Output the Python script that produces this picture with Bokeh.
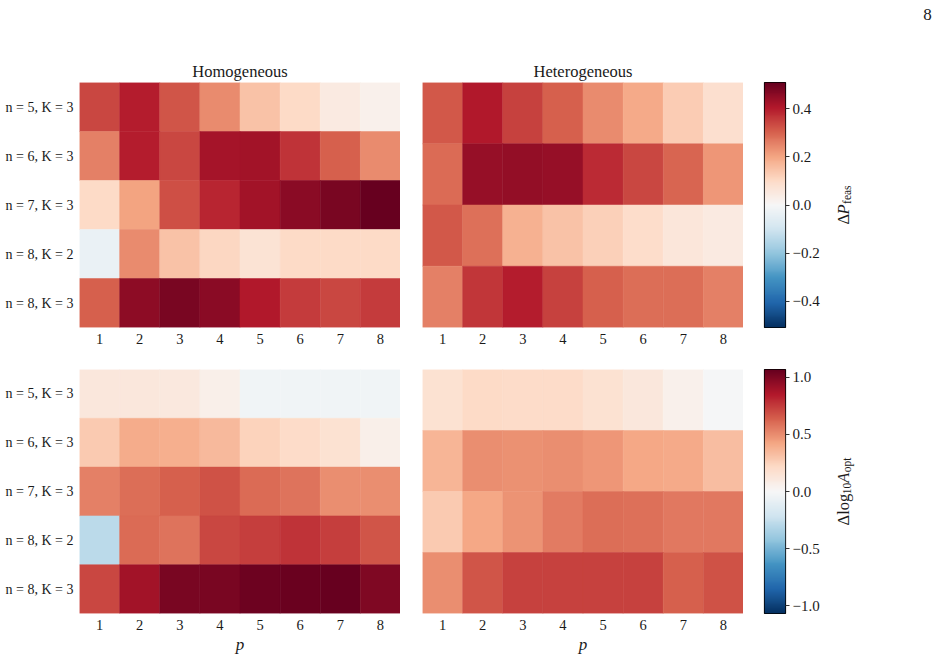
import numpy as np
from bokeh.plotting import figure
from bokeh.models import (LinearColorMapper, FixedTicker, ColumnDataSource,
                          FactorRange, Range1d)
from bokeh.core.properties import value
from bokeh.layouts import row, column
from bokeh.embed import file_html
from bokeh.resources import INLINE

# ---------------- data ----------------
p_values = [1, 2, 3, 4, 5, 6, 7, 8]
hom_rows = ["n = 5, K = 3", "n = 6, K = 3", "n = 7, K = 3", "n = 8, K = 2", "n = 8, K = 3"]
het_rows = ["het 1", "het 2", "het 3", "het 4"]

hom_dP = [
    [0.34, 0.40, 0.32, 0.24, 0.15, 0.10, 0.045, 0.025],
    [0.255, 0.40, 0.34, 0.425, 0.43, 0.37, 0.305, 0.24],
    [0.10, 0.205, 0.33, 0.39, 0.43, 0.46, 0.485, 0.51],
    [-0.035, 0.24, 0.15, 0.11, 0.075, 0.10, 0.10, 0.10],
    [0.305, 0.455, 0.485, 0.46, 0.41, 0.355, 0.34, 0.355],
]
het_dP = [
    [0.315, 0.41, 0.35, 0.305, 0.24, 0.195, 0.13, 0.085],
    [0.29, 0.445, 0.45, 0.445, 0.38, 0.34, 0.295, 0.225],
    [0.315, 0.28, 0.18, 0.15, 0.12, 0.095, 0.06, 0.045],
    [0.255, 0.365, 0.40, 0.35, 0.305, 0.285, 0.285, 0.255],
]
hom_dA = [
    [0.12, 0.12, 0.11, 0.065, -0.04, -0.04, -0.04, -0.04],
    [0.28, 0.40, 0.385, 0.35, 0.245, 0.205, 0.16, 0.065],
    [0.535, 0.60, 0.64, 0.685, 0.61, 0.58, 0.50, 0.50],
    [-0.29, 0.61, 0.58, 0.715, 0.74, 0.77, 0.74, 0.675],
    [0.715, 0.90, 1.015, 1.015, 1.05, 1.06, 1.07, 0.995],
]
het_dA = [
    [0.16, 0.215, 0.205, 0.205, 0.16, 0.12, 0.055, -0.01],
    [0.365, 0.50, 0.49, 0.50, 0.47, 0.415, 0.405, 0.33],
    [0.28, 0.415, 0.48, 0.555, 0.60, 0.59, 0.565, 0.565],
    [0.50, 0.675, 0.73, 0.73, 0.73, 0.73, 0.64, 0.685],
]
cb_top_ticks = [-0.4, -0.2, 0.0, 0.2, 0.4]
cb_bot_ticks = [-1.0, -0.5, 0.0, 0.5, 1.0]
titles = ["Homogeneous", "Heterogeneous"]
page_number = "8"

# ---------------- style ----------------
FONT = "Liberation Serif"
TXT = "#1a1a1a"
RDBU = ["#053061", "#2166ac", "#4393c3", "#92c5de", "#d1e5f0", "#f7f7f7",
        "#fddbc7", "#f4a582", "#d6604d", "#b2182b", "#67001f"]


def interp_palette(colors, n):
    rgb = np.array([[int(c[i:i + 2], 16) for i in (1, 3, 5)] for c in colors], float)
    xs = np.linspace(0, 1, len(colors))
    t = np.linspace(0, 1, n)
    out = []
    for ti in t:
        r = [np.interp(ti, xs, rgb[:, k]) for k in range(3)]
        out.append("#%02x%02x%02x" % tuple(int(round(v)) for v in r))
    return out


PAL = interp_palette(RDBU, 256)

vmax_top = float(np.max(np.abs(np.array(hom_dP + het_dP))))
vmax_bot = float(np.max(np.abs(np.array(hom_dA + het_dA))))
map_top = LinearColorMapper(palette=PAL, low=-vmax_top, high=vmax_top)
map_bot = LinearColorMapper(palette=PAL, low=-vmax_bot, high=vmax_bot)

FRAME_W = 321
TOP_H, BOT_H = 245, 244
TOP_B_TOP, TOP_B_BOT = 82, 28
BOT_B_TOP, BOT_B_BOT = 14, 45
LEFT_B = 79
GAP = 22
CB_GAP, CB_W, CB_RB = 21, 21, 40
WIN_W = 940


def heatmap(rows, values, mapper, title, show_y, show_xlabel, fh, bt, bb, bl):
    xf = [str(v) for v in p_values]
    fig = figure(x_range=FactorRange(factors=xf), y_range=FactorRange(factors=list(reversed(rows))),
                 frame_width=FRAME_W, frame_height=fh,
                 min_border_left=bl, min_border_right=0, min_border_top=bt, min_border_bottom=bb,
                 toolbar_location=None, output_backend="svg",
                 y_axis_location="left" if show_y else None,
                 outline_line_color=None, background_fill_color="white", border_fill_color="white")
    xs, ys, vs = [], [], []
    for r, rl in enumerate(rows):
        for c, pv in enumerate(p_values):
            xs.append(str(pv)); ys.append(rl); vs.append(values[r][c])
    src = ColumnDataSource(dict(x=xs, y=ys, v=vs))
    fig.rect(x="x", y="y", width=1, height=1, source=src,
             fill_color={"field": "v", "transform": mapper},
             line_color={"field": "v", "transform": mapper}, line_width=0.5)
    fig.grid.visible = False
    for ax in fig.axis:
        ax.axis_line_color = None
        ax.major_tick_line_color = None
        ax.major_tick_in = 0
        ax.major_tick_out = 0
        ax.minor_tick_line_color = None
        ax.minor_tick_in = 0
        ax.minor_tick_out = 0
        ax.major_label_text_font = FONT
        ax.major_label_text_font_size = "14.5px"
        ax.major_label_text_color = TXT
    fig.xaxis.major_label_standoff = 6
    if show_y:
        fig.yaxis.major_label_text_font_size = "14px"
        fig.yaxis.major_label_standoff = 6
    if show_xlabel:
        fig.xaxis.axis_label = "p"
        fig.xaxis.axis_label_text_font = FONT
        fig.xaxis.axis_label_text_font_style = "italic"
        fig.xaxis.axis_label_text_font_size = "17px"
        fig.xaxis.axis_label_text_color = TXT
        fig.xaxis.axis_label_standoff = 2
    if title:
        fig.title.text = title
        fig.title.align = "center"
        fig.title.text_font = FONT
        fig.title.text_font_size = "16.5px"
        fig.title.text_font_style = "normal"
        fig.title.text_color = TXT
        fig.title.standoff = 3
    return fig


def colorbar(mapper, vmax, ticks, fh, bt, bb):
    fig = figure(x_range=Range1d(0, 1), y_range=Range1d(-vmax, vmax),
                 frame_width=CB_W, frame_height=fh,
                 min_border_left=CB_GAP, min_border_right=CB_RB, min_border_top=bt, min_border_bottom=bb,
                 x_axis_location=None, y_axis_location="right",
                 toolbar_location=None, output_backend="svg",
                 outline_line_color="black", outline_line_width=1.2,
                 background_fill_color="white", border_fill_color="white")
    grad = np.linspace(-vmax, vmax, 512).reshape(512, 1)
    fig.image(image=[grad], x=0, y=-vmax, dw=1, dh=2 * vmax, color_mapper=mapper)
    fig.grid.visible = False
    ax = fig.yaxis[0]
    ax.ticker = FixedTicker(ticks=ticks)
    ax.major_label_overrides = {t: ("%.1f" % t).replace("-", "\u2212") for t in ticks}
    ax.axis_line_color = None
    ax.major_tick_in = 0
    ax.major_tick_out = 4
    ax.major_tick_line_color = "#333333"
    ax.minor_tick_line_color = None
    ax.minor_tick_in = 0
    ax.minor_tick_out = 0
    ax.major_label_standoff = 3
    ax.major_label_text_font = FONT
    ax.major_label_text_font_size = "15px"
    ax.major_label_text_color = TXT
    return fig


def label_panel(fh, bt, bb, parts, page=None):
    """Full-height panel right of a colour bar (row pixel coordinates) holding its rotated title."""
    x0 = LEFT_B + FRAME_W + GAP + FRAME_W + CB_GAP + CB_W + CB_RB
    w = WIN_W - x0
    h = bt + fh + bb
    fig = figure(x_range=Range1d(0, w), y_range=Range1d(h, 0),
                 frame_width=w, frame_height=h, frame_align=False,
                 min_border_left=0, min_border_right=0, min_border_top=0, min_border_bottom=0,
                 x_axis_location=None, y_axis_location=None,
                 toolbar_location=None, output_backend="svg",
                 outline_line_color=None, background_fill_color="white", border_fill_color="white")
    fig.grid.visible = False
    total = sum(p[4] for p in parts)
    y = bt + fh / 2.0 + total / 2.0
    base_x = 18
    for text, size, style, shift, wd in parts:
        fig.text(x=[base_x + shift], y=[y], text=[text], angle=90, angle_units="deg",
                 text_align="left", text_baseline="alphabetic", text_font=value(FONT),
                 text_font_size=value("%.1fpx" % size), text_font_style=style, text_color=TXT)
        y -= wd
    if page is not None:
        fig.text(x=[927 - x0], y=[14], text=[page], text_align="center", text_baseline="middle",
                 text_font=value(FONT), text_font_size=value("17px"), text_color=TXT)
    return fig


M, S = 16.5, 11.5
top_parts = [("\u0394", M, "normal", 0, 0.612 * M),
             ("P", M, "italic", 0, 0.64 * M),
             ("feas", S, "normal", 3.5, 1.61 * S)]
bot_parts = [("\u0394log", M, "normal", 0, 1.89 * M),
             ("10", S, "normal", 3.5, 1.0 * S),
             ("A", M, "italic", 0, 0.64 * M),
             ("opt", S, "normal", 3.5, 1.28 * S)]

a = heatmap(hom_rows, hom_dP, map_top, titles[0], True, False, TOP_H, TOP_B_TOP, TOP_B_BOT, LEFT_B)
b = heatmap(het_rows, het_dP, map_top, titles[1], False, False, TOP_H, TOP_B_TOP, TOP_B_BOT, GAP)
c = colorbar(map_top, vmax_top, cb_top_ticks, TOP_H, TOP_B_TOP, TOP_B_BOT)
c2 = label_panel(TOP_H, TOP_B_TOP, TOP_B_BOT, top_parts, page=page_number)
d = heatmap(hom_rows, hom_dA, map_bot, None, True, True, BOT_H, BOT_B_TOP, BOT_B_BOT, LEFT_B)
e = heatmap(het_rows, het_dA, map_bot, None, False, True, BOT_H, BOT_B_TOP, BOT_B_BOT, GAP)
f = colorbar(map_bot, vmax_bot, cb_bot_ticks, BOT_H, BOT_B_TOP, BOT_B_BOT)
f2 = label_panel(BOT_H, BOT_B_TOP, BOT_B_BOT, bot_parts)

layout = column(row(a, b, c, c2, spacing=0), row(d, e, f, f2, spacing=0), spacing=0)

open("out.html", "w").write(file_html(layout, INLINE))
